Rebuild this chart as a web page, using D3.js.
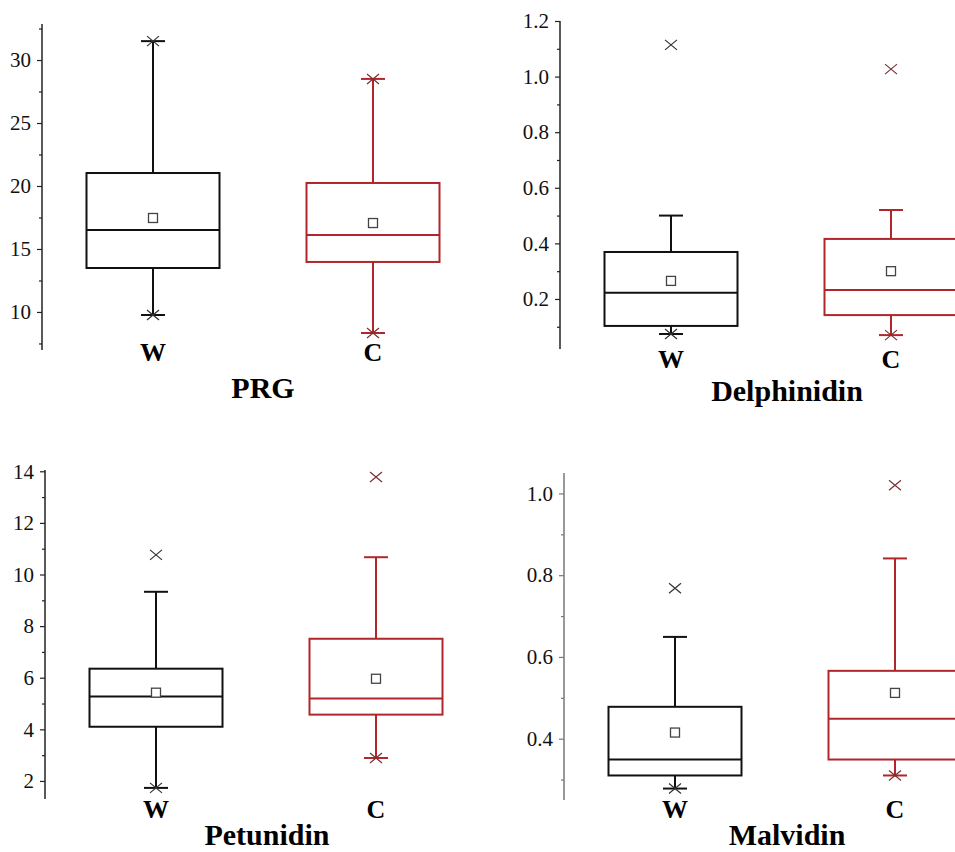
<!DOCTYPE html>
<html lang="en">
  <head>
    <meta charset="utf-8" />
    <script src="https://d3js.org/d3.v7.min.js"></script>
    <style>
      body { margin: 0; background: #fff; }
      svg { display: block; }
      text { font-family: "Liberation Serif", "Times New Roman", serif; }
    </style>
    <title>Box plots</title>
  </head>
  <body>
    <div id="my_dataviz"></div>
    <script>
      // ---------------------------//
      //       DATA                 //
      // ---------------------------//
      var groups = ["W", "C"];
      var panelTitles = ["PRG", "Delphinidin", "Petunidin", "Malvidin"];

      // one entry per panel, inside: [W, C]
      var q1 = [[13.49, 13.97], [0.103, 0.142], [4.1, 4.57], [0.31, 0.349]];
      var median = [[16.5, 16.1], [0.222, 0.232], [5.27, 5.19], [0.349, 0.449]];
      var q3 = [[21.03, 20.24], [0.369, 0.416], [6.35, 7.51], [0.478, 0.566]];
      var mean = [[17.46, 17.06], [0.265, 0.3], [5.42, 5.96], [0.415, 0.512]];
      var whiskerLow = [[9.76, 8.33], [0.074, 0.07], [1.73, 2.89], [0.278, 0.31]];
      var whiskerHigh = [[31.5, 28.5], [0.5, 0.52], [9.33, 10.67], [0.649, 0.841]];
      // cross markers (extremes / outliers)
      var crosses = [
        [[31.5, 9.76], [28.5, 8.33]],
        [[1.114, 0.074], [1.027, 0.07]],
        [[10.76, 1.73], [13.78, 2.89]],
        [[0.768, 0.278], [1.02, 0.31]]
      ];

      // axes
      var yDomains = [[6.98, 32.86], [0.02, 1.2], [1.3, 14.05], [0.25, 1.05]];
      var yTicks = [
        [10, 15, 20, 25, 30],
        [0.2, 0.4, 0.6, 0.8, 1.0, 1.2],
        [2, 4, 6, 8, 10, 12, 14],
        [0.4, 0.6, 0.8, 1.0]
      ];
      var yMinorTicks = [
        [7.5, 12.5, 17.5, 22.5, 27.5, 32.5],
        [0.1, 0.3, 0.5, 0.7, 0.9, 1.1],
        [3, 5, 7, 9, 11, 13],
        [0.3, 0.5, 0.7, 0.9]
      ];
      var tickFormats = ["d", ".1f", "d", ".1f"];

      // ---------------------------//
      //       LAYOUT               //
      // ---------------------------//
      var W = 955, H = 852;
      var layout = [
        { ax: 42, top: 24, bottom: 350, catY: 361, titleX: 263, titleY: 398, axisColor: "#222" },
        { ax: 560, top: 21, bottom: 349, catY: 368, titleX: 787, titleY: 401, axisColor: "#222" },
        { ax: 45, top: 470, bottom: 799, catY: 818, titleX: 267, titleY: 845, axisColor: "#222" },
        { ax: 564, top: 473, bottom: 800, catY: 818, titleX: 787, titleY: 845, axisColor: "#777" }
      ];
      var colors = { W: "#111111", C: "#b0262b" };
      var crossColors = { W: "#333333", C: "#7a3034" };
      var boxWidth = 133;
      var capWidth = 24;

      var svg = d3
        .select("#my_dataviz")
        .append("svg")
        .attr("width", W)
        .attr("height", H);

      panelTitles.forEach(function (title, p) {
        var L = layout[p];
        var g = svg.append("g");

        var y = d3.scaleLinear().domain(yDomains[p]).range([L.bottom, L.top]);
        var x = d3
          .scalePoint()
          .domain(groups)
          .range([L.ax + 111, L.ax + 331]);

        // major axis
        var axis = g
          .append("g")
          .attr("transform", "translate(" + L.ax + ",0)")
          .call(
            d3
              .axisLeft(y)
              .tickValues(yTicks[p])
              .tickFormat(d3.format(tickFormats[p]))
              .tickSize(5)
              .tickPadding(6)
          );
        axis.select(".domain").remove();
        axis.selectAll(".tick line").attr("stroke", L.axisColor).attr("stroke-width", 1.2);
        axis
          .selectAll(".tick text")
          .attr("fill", "#111")
          .style("font-size", "21px")
          .style("font-family", "'Liberation Serif', serif");

        // minor ticks
        var minor = g
          .append("g")
          .attr("transform", "translate(" + L.ax + ",0)")
          .call(d3.axisLeft(y).tickValues(yMinorTicks[p]).tickSize(3).tickFormat(""));
        minor.select(".domain").remove();
        minor.selectAll(".tick line").attr("stroke", L.axisColor).attr("stroke-width", 1.2);

        // axis line
        g.append("line")
          .attr("x1", L.ax)
          .attr("x2", L.ax)
          .attr("y1", L.top)
          .attr("y2", L.bottom)
          .attr("stroke", L.axisColor)
          .attr("stroke-width", 1.5);

        groups.forEach(function (grp, i) {
          var cx = x(grp);
          var col = colors[grp];
          var bg = g.append("g");

          // whiskers
          bg.append("line")
            .attr("x1", cx).attr("x2", cx)
            .attr("y1", y(q3[p][i])).attr("y2", y(whiskerHigh[p][i]))
            .attr("stroke", col).attr("stroke-width", 2);
          bg.append("line")
            .attr("x1", cx).attr("x2", cx)
            .attr("y1", y(q1[p][i])).attr("y2", y(whiskerLow[p][i]))
            .attr("stroke", col).attr("stroke-width", 2);
          [whiskerHigh[p][i], whiskerLow[p][i]].forEach(function (v) {
            bg.append("line")
              .attr("x1", cx - capWidth / 2).attr("x2", cx + capWidth / 2)
              .attr("y1", y(v)).attr("y2", y(v))
              .attr("stroke", col).attr("stroke-width", 2);
          });

          // box
          bg.append("rect")
            .attr("x", cx - boxWidth / 2)
            .attr("y", y(q3[p][i]))
            .attr("width", boxWidth)
            .attr("height", y(q1[p][i]) - y(q3[p][i]))
            .attr("fill", "none")
            .attr("stroke", col)
            .attr("stroke-width", 2);

          // median
          bg.append("line")
            .attr("x1", cx - boxWidth / 2).attr("x2", cx + boxWidth / 2)
            .attr("y1", y(median[p][i])).attr("y2", y(median[p][i]))
            .attr("stroke", col).attr("stroke-width", 2);

          // mean
          bg.append("rect")
            .attr("x", cx - 4.5)
            .attr("y", y(mean[p][i]) - 4.5)
            .attr("width", 9)
            .attr("height", 9)
            .attr("fill", "#fff")
            .attr("stroke", "#444")
            .attr("stroke-width", 1.3);

          // crosses
          crosses[p][i].forEach(function (v) {
            var cy = y(v);
            bg.append("path")
              .attr("d", "M" + (cx - 6) + "," + (cy - 5) + "L" + (cx + 6) + "," + (cy + 5) +
                "M" + (cx - 6) + "," + (cy + 5) + "L" + (cx + 6) + "," + (cy - 5))
              .attr("stroke", crossColors[grp])
              .attr("stroke-width", 1.2)
              .attr("fill", "none");
          });

          // category label
          g.append("text")
            .attr("x", cx)
            .attr("y", L.catY)
            .attr("text-anchor", "middle")
            .style("font-size", "26px")
            .style("font-weight", "bold")
            .text(grp);
        });

        // panel title
        g.append("text")
          .attr("x", L.titleX)
          .attr("y", L.titleY)
          .attr("text-anchor", "middle")
          .style("font-size", "30px")
          .style("font-weight", "bold")
          .text(title);
      });
    </script>
  </body>
</html>
